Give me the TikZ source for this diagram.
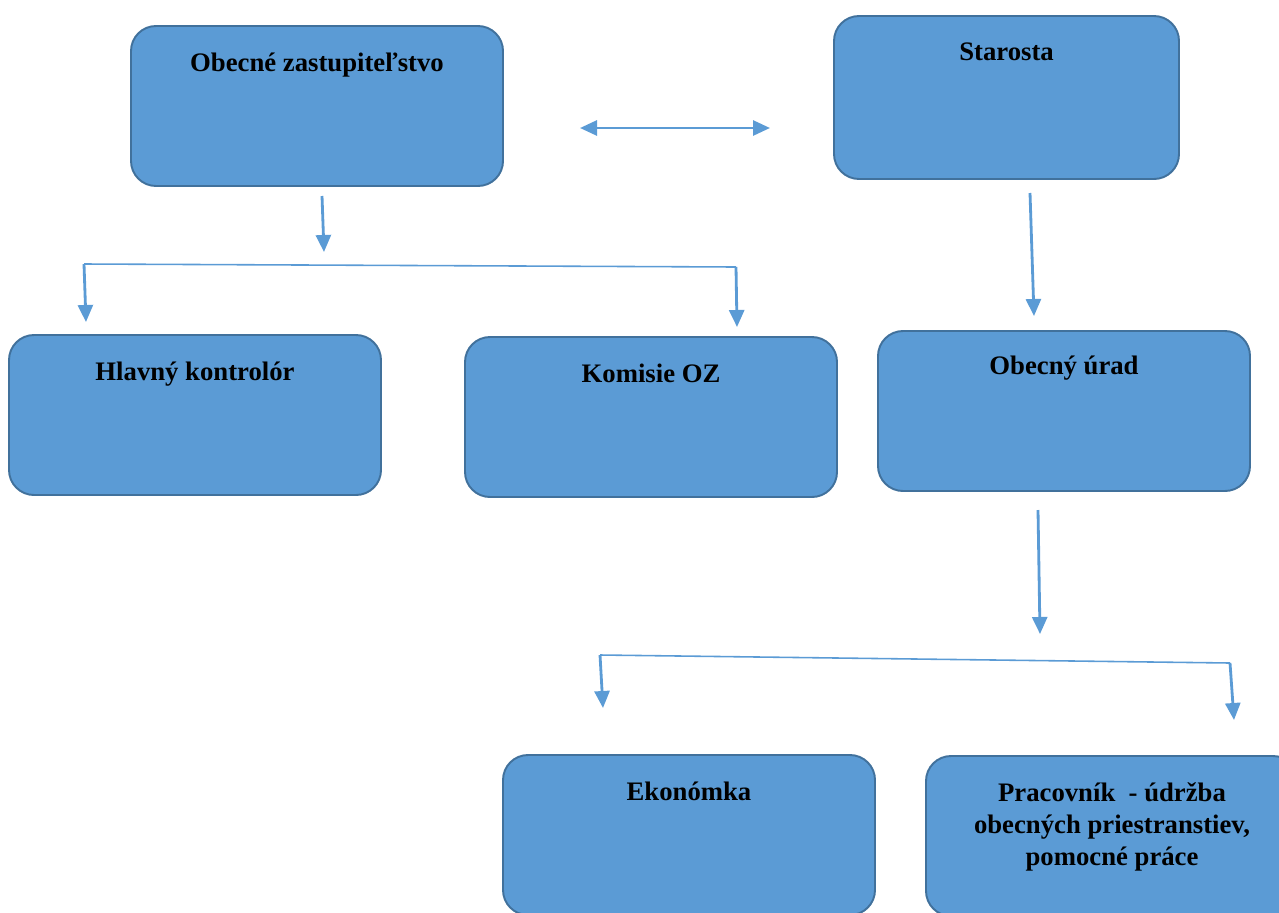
\documentclass[tikz,border=0pt]{standalone}
\usepackage{fontspec}
\setmainfont{Liberation Serif}
\usetikzlibrary{positioning}
\usetikzlibrary{arrows.meta}
\definecolor{boxfill}{HTML}{5B9BD5}
\definecolor{boxline}{HTML}{41719C}

\begin{document}
\begin{tikzpicture}[>={Triangle[length=0.34cm,width=0.3cm]}, font=\bfseries\fontsize{15.2}{18.2}\selectfont]
    \tikzstyle{box}=[draw=boxline,line width=1.1pt,fill=boxfill,rounded corners=0.5cm,minimum width=7.44cm,minimum height=3.2cm,inner sep=0pt]
    \tikzstyle{lbl}=[align=center,inner sep=0pt]
    \tikzstyle{arr}=[->,draw=boxfill,line width=1.6pt]
    \tikzstyle{branch}=[draw=boxfill,line width=0.9pt]

    \clip (0,0) rectangle (25.58,-18.24);

    % boxes
    \node[box] (oz) at (6.34,-2.12) {};
    \node[box, minimum width=6.9cm, minimum height=3.26cm] (st) at (20.13,-1.95) {};
    \node[box] (hk) at (3.9,-8.3) {};
    \node[box] (ko) at (13.02,-8.34) {};
    \node[box] (ou) at (21.28,-8.22) {};
    \node[box] (ek) at (13.78,-16.7) {};
    \node[box] (pr) at (22.24,-16.72) {};

    \node[lbl, below=0.55cm of oz.north] {Obecné zastupiteľstvo};
    \node[lbl, below=0.55cm of st.north] {Starosta};
    \node[lbl, below=0.55cm of hk.north] {Hlavný kontrolór};
    \node[lbl, below=0.55cm of ko.north] {Komisie OZ};
    \node[lbl, below=0.52cm of ou.north] {Obecný úrad};
    \node[lbl, below=0.55cm of ek.north] {Ekonómka};
    \node[lbl, below=0.55cm of pr.north] {Pracovník\ \ - údržba\\obecných priestranstiev,\\pomocné práce};

    % connector ends
    \coordinate (lr1) at (11.6,-2.56);
    \coordinate (lr2) at (15.4,-2.56);
    \coordinate (oz1) at (6.44,-3.92);
    \coordinate (oz2) at (6.48,-5.04);
    \coordinate (b1l) at (1.68,-5.28);
    \coordinate (b1r) at (14.72,-5.34);
    \coordinate (hk1) at (1.72,-6.44);
    \coordinate (ko1) at (14.74,-6.54);
    \coordinate (st1) at (20.6,-3.86);
    \coordinate (st2) at (20.68,-6.32);
    \coordinate (ou1) at (20.76,-10.2);
    \coordinate (ou2) at (20.8,-12.68);
    \coordinate (b2l) at (12.0,-13.1);
    \coordinate (b2r) at (24.6,-13.26);
    \coordinate (ek1) at (12.06,-14.16);
    \coordinate (pr1) at (24.68,-14.4);

    \draw[arr, <->] (lr1) -- (lr2);
    \draw[arr] (oz1) -- (oz2);
    \draw[branch] (b1l) -- (b1r);
    \draw[arr] (b1l) -- (hk1);
    \draw[arr] (b1r) -- (ko1);
    \draw[arr] (st1) -- (st2);
    \draw[arr] (ou1) -- (ou2);
    \draw[branch] (b2l) -- (b2r);
    \draw[arr] (b2l) -- (ek1);
    \draw[arr] (b2r) -- (pr1);

\end{tikzpicture}
\end{document}
